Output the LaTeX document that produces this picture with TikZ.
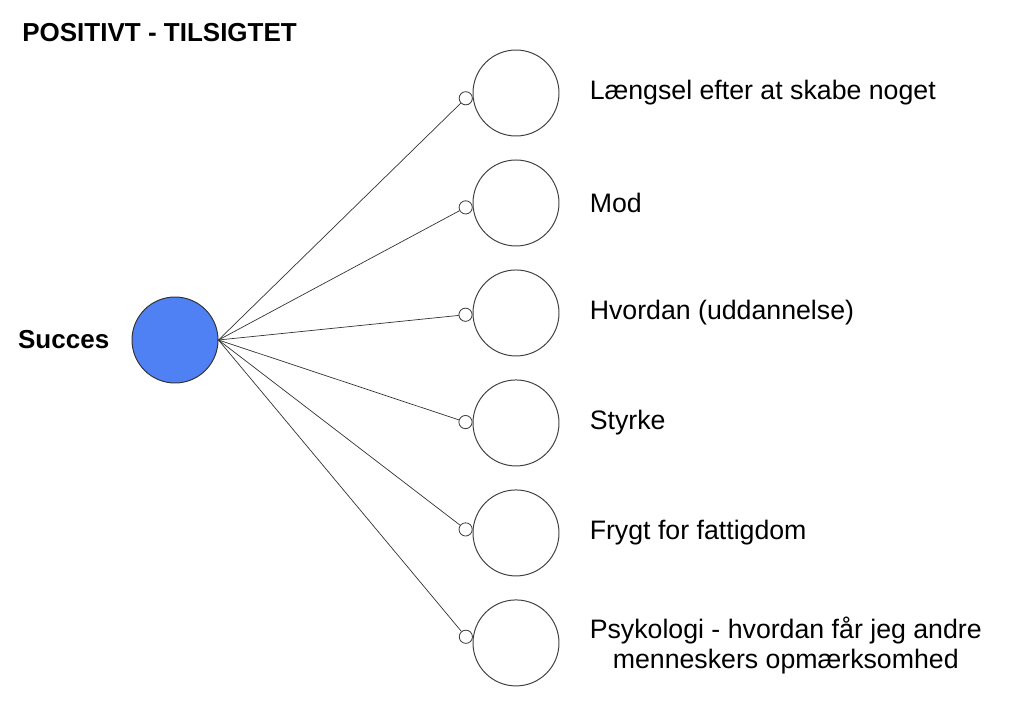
\documentclass[tikz,border=0pt]{standalone}
\usepackage{fontspec}
\setmainfont{Liberation Sans}
\usetikzlibrary{positioning}

\begin{document}
\begin{tikzpicture}[node distance=0.575cm, auto,
        goal/.style={draw=black!75, circle, fill=white, minimum size=2.15cm, inner sep=0pt, line width=0.7pt},
        hubnode/.style={draw=black!80, circle, minimum size=2.15cm, inner sep=0pt, line width=0.7pt},
        port/.style={draw=black!75, circle, fill=white, minimum size=0.33cm, inner sep=0pt, line width=0.6pt},
        label/.style={anchor=west, inner sep=0pt, font=\fontsize{19}{21.5}\selectfont},
        line/.style={draw, black!80, line width=0.5pt}]
        \useasboundingbox (0,0) rectangle (25.6,-18.1);

        % title and hub
        \node [anchor=west, inner sep=0pt, font=\bfseries\fontsize{18.5}{21}\selectfont] (title) at (0.55,-0.825) {POSITIVT - TILSIGTET};
        \node [hubnode, fill={rgb,255:red,79;green,129;blue,245}] (hub) at (4.375,-8.5) {};
        \node [left=0.55cm of hub, inner sep=0pt, font=\bfseries\fontsize{18.5}{21}\selectfont] (succes) {Succes};

        % goal circles
        \node [goal] (c1) at (12.9,-2.325) {};
        \node [goal, below=of c1] (c2) {};
        \node [goal, below=of c2] (c3) {};
        \node [goal, below=of c3] (c4) {};
        \node [goal, below=of c4] (c5) {};
        \node [goal, below=of c5] (c6) {};

        % ports
        \node [port, anchor=6] (p1) at (c1.186) {};
        \node [port, anchor=5] (p2) at (c2.185) {};
        \node [port, anchor=2] (p3) at (c3.182) {};
        \node [port, anchor=-1] (p4) at (c4.179) {};
        \node [port, anchor=-4] (p5) at (c5.176) {};
        \node [port, anchor=-7] (p6) at (c6.173) {};

        % labels
        \node [label, right=0.75cm of c1] (l1) {Længsel efter at skabe noget};
        \node [label, right=0.75cm of c2] (l2) {Mod};
        \node [label, right=0.75cm of c3] (l3) {Hvordan (uddannelse)};
        \node [label, right=0.75cm of c4] (l4) {Styrke};
        \node [label, right=0.75cm of c5] (l5) {Frygt for fattigdom};
        \node [label, right=0.75cm of c6, align=center, yshift=-0.07cm] (l6) {Psykologi - hvordan får jeg andre\\menneskers opmærksomhed};

        % connectors
        \path [line] (hub.east) -- (p1);
        \path [line] (hub.east) -- (p2);
        \path [line] (hub.east) -- (p3);
        \path [line] (hub.east) -- (p4);
        \path [line] (hub.east) -- (p5);
        \path [line] (hub.east) -- (p6);
    \end{tikzpicture}
\end{document}
